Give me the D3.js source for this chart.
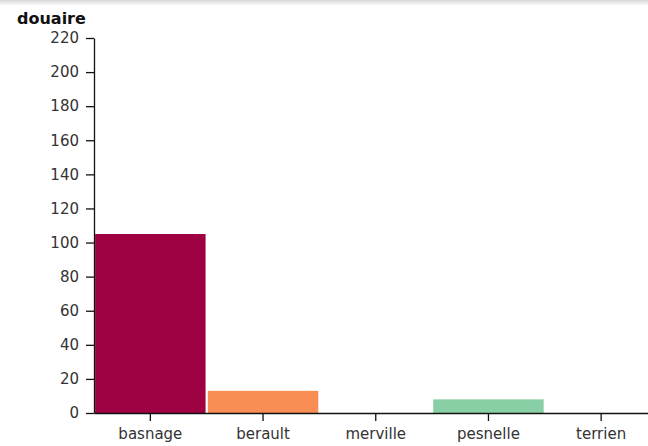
<!DOCTYPE html>
<html>
<head>
<meta charset="utf-8">
<script src="https://cdn.jsdelivr.net/npm/d3@7"></script>
<style>
  html, body { margin: 0; padding: 0; background: #fff; overflow: hidden; }
  svg { display: block; }
</style>
</head>
<body>
<script>
const categories = ["basnage", "berault", "merville", "pesnelle", "terrien"];
const values = [105, 13, 0, 8, 0];
const yTicks = [0, 20, 40, 60, 80, 100, 120, 140, 160, 180, 200, 220];
const yTitle = "douaire";

const W = 648, H = 446;
const svg = d3.select("body").append("svg").attr("width", W).attr("height", H);

// subtle top shadow seen in reference
const defs = svg.append("defs");
const grad = defs.append("linearGradient").attr("id", "topShade").attr("x1", 0).attr("y1", 0).attr("x2", 0).attr("y2", 1);
grad.append("stop").attr("offset", "0%").attr("stop-color", "#d8d8d8");
grad.append("stop").attr("offset", "100%").attr("stop-color", "#ffffff");
svg.append("rect").attr("x", 0).attr("y", 0).attr("width", W).attr("height", 6).attr("fill", "url(#topShade)");

const x = d3.scaleBand().domain(categories).range([94, 94 + 5 * 112.7]).paddingInner(0.02).paddingOuter(0.01);
const y = d3.scaleLinear().domain([0, 220]).range([413, 38]);
const color = i => d3.interpolateSpectral(i / (categories.length - 1));

svg.append("g").selectAll("rect").data(categories).join("rect")
  .attr("x", d => x(d))
  .attr("width", x.bandwidth())
  .attr("y", (d, i) => y(values[i]))
  .attr("height", (d, i) => y(0) - y(values[i]))
  .attr("fill", (d, i) => color(i));

const font = "'DejaVu Sans', Verdana, sans-serif";

const gx = svg.append("g").attr("transform", `translate(0,${y(0)})`)
  .call(d3.axisBottom(x).tickSize(8).tickPadding(7).tickSizeOuter(0));
gx.selectAll("text").attr("font-family", font).attr("font-size", 15).attr("fill", "#333");

const gy = svg.append("g").attr("transform", `translate(94,0)`)
  .call(d3.axisLeft(y).tickValues(yTicks).tickSize(8).tickPadding(7).tickSizeOuter(0));
gy.selectAll("text").attr("font-family", font).attr("font-size", 15).attr("fill", "#333");

svg.selectAll(".domain, .tick line").attr("stroke", "#111").attr("stroke-width", 1.3);

svg.append("text").attr("x", 17).attr("y", 24)
  .attr("font-family", font).attr("font-weight", "bold").attr("font-size", 16)
  .attr("fill", "#111").text(yTitle);
</script>
</body>
</html>
